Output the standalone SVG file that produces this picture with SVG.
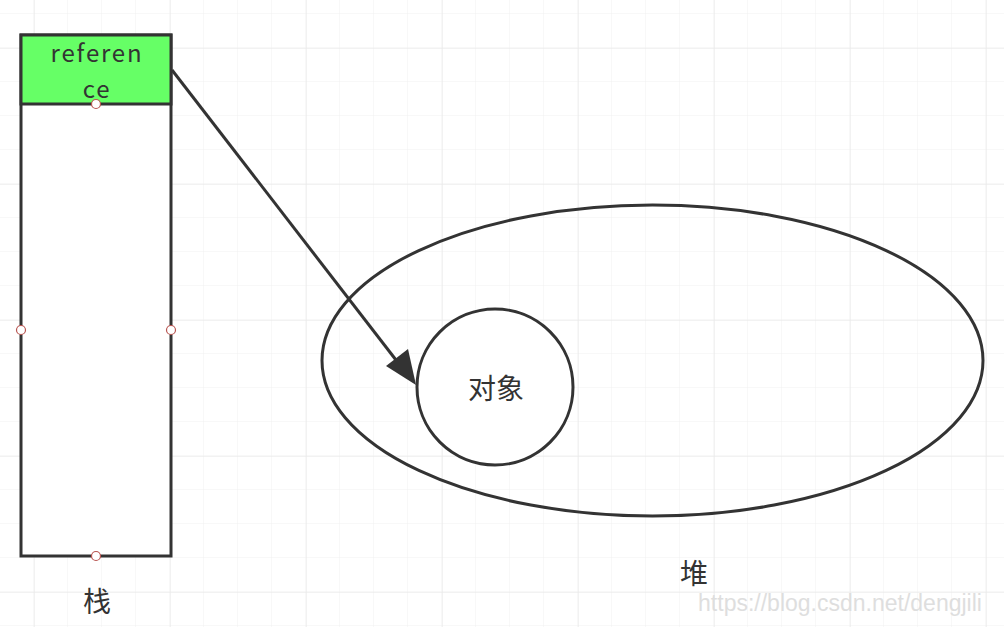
<svg xmlns="http://www.w3.org/2000/svg" width="1004" height="627" viewBox="0 0 1004 627">
<defs>
<pattern id="gmin" width="34" height="34" patternUnits="userSpaceOnUse" x="0" y="14">
<path d="M34 0V34M0 34H34" fill="none" stroke="#f1f1f1" stroke-width="1"/>
</pattern>
<pattern id="gmaj" width="136" height="136" patternUnits="userSpaceOnUse" x="34" y="48">
<path d="M0 0V136M0 0H136" fill="none" stroke="#e6e6e6" stroke-width="1"/>
</pattern>
</defs>
<style>
.sh{fill:none;stroke:#333;stroke-width:3}
.cp{fill:#fff;stroke:#b85450;stroke-width:1.2}
.t{font-family:"Noto Sans CJK SC","Noto Sans",sans-serif;fill:#333;text-anchor:middle}
</style>
<rect width="1004" height="627" fill="#fff"/>
<rect width="1004" height="627" fill="url(#gmin)"/>
<rect width="1004" height="627" fill="url(#gmaj)"/>
<g id="stack">
<rect x="21" y="35" width="150" height="521" class="sh" style="fill:#fff"/>
<text x="97" y="612" class="t" font-size="28">栈</text>
</g>
<g id="reference">
<rect x="21" y="35" width="150" height="69" class="sh" style="fill:#66ff66"/>
<text x="97" y="62" class="t" font-size="24" letter-spacing="1.8">referen</text>
<text x="97" y="97.5" class="t" font-size="24" letter-spacing="1.8">ce</text>
</g>
<g id="heap">
<ellipse cx="652.5" cy="360.5" rx="330.5" ry="155.5" class="sh"/>
<text x="694" y="584" class="t" font-size="28">堆</text>
</g>
<g id="object">
<circle cx="495" cy="387" r="78" class="sh" style="fill:#fff"/>
<text x="496" y="399" class="t" font-size="28">对象</text>
</g>
<g id="connectors">
<line x1="172" y1="70" x2="396" y2="360" class="sh"/>
<path d="M416 385L386 366L408 349Z" fill="#333"/>
</g>
<g id="points">
<circle cx="96" cy="104" r="4.5" class="cp"/>
<circle cx="21" cy="330" r="4.5" class="cp"/>
<circle cx="171" cy="330" r="4.5" class="cp"/>
<circle cx="96" cy="556" r="4.5" class="cp"/>
</g>
<text x="840" y="611" font-family="Liberation Sans, Arial, sans-serif" font-size="23" fill="#dedede" text-anchor="middle">https://blog.csdn.net/dengjili</text>
</svg>
